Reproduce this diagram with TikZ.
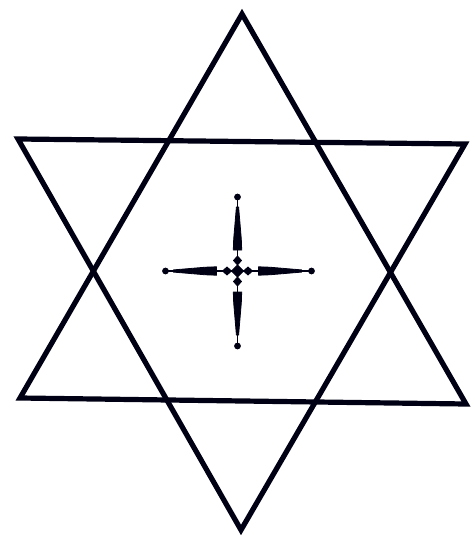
\documentclass[tikz,border=0pt]{standalone}
\begin{document}
\begin{tikzpicture}[x=1pt,y=-1pt,
  starline/.style={line width=5.2pt,line join=miter,miter limit=20,draw=black!92!blue},
  inkfill/.style={fill=black!92!blue,draw=black!92!blue,line width=0.8pt,line join=round},
  thinline/.style={line width=1.8pt,draw=black!92!blue}]
\useasboundingbox (0,0) rectangle (474,540);
% up-pointing triangle
\coordinate (ua) at (242,14);
\coordinate (ul) at (20,398);
\coordinate (ur) at (466,404);
% down-pointing triangle
\coordinate (dl) at (18,139);
\coordinate (dr) at (465,144);
\coordinate (db) at (241,530);
\draw[starline] (ua) -- (ul) -- (ur) -- cycle;
\draw[starline] (dl) -- (dr) -- (db) -- cycle;
% cross
\begin{scope}[shift={(237.5,271)}]
  \coordinate (ct) at (0,-74);
  \coordinate (cb) at (0,75);
  \coordinate (cl) at (-72,0);
  \coordinate (cr) at (74,0);
  \draw[thinline] (ct) -- (cb);
  \draw[thinline] (cl) -- (cr);
  % spindles and beads
  \foreach \r in {0,90,180,270}{
    \begin{scope}[rotate=\r]
      \fill[inkfill] (-21,-4.2) -- (-32,-3.8) -- (-64,-1.1) -- (-64,1.1) -- (-32,3.8) -- (-21,4.2) -- cycle;
      \fill[inkfill] (-15,0) -- (-10.5,-4) -- (-6,0) -- (-10.5,4) -- cycle;
    \end{scope}
  }
  \fill[inkfill] (-6,0) -- (0,-6) -- (6,0) -- (0,6) -- cycle;
  \fill[black!92!blue] (ct) circle (3.4);
  \fill[black!92!blue] (cb) circle (3.4);
  \fill[black!92!blue] (cl) circle (3.4);
  \fill[black!92!blue] (cr) circle (3.4);
\end{scope}
\end{tikzpicture}
\end{document}
